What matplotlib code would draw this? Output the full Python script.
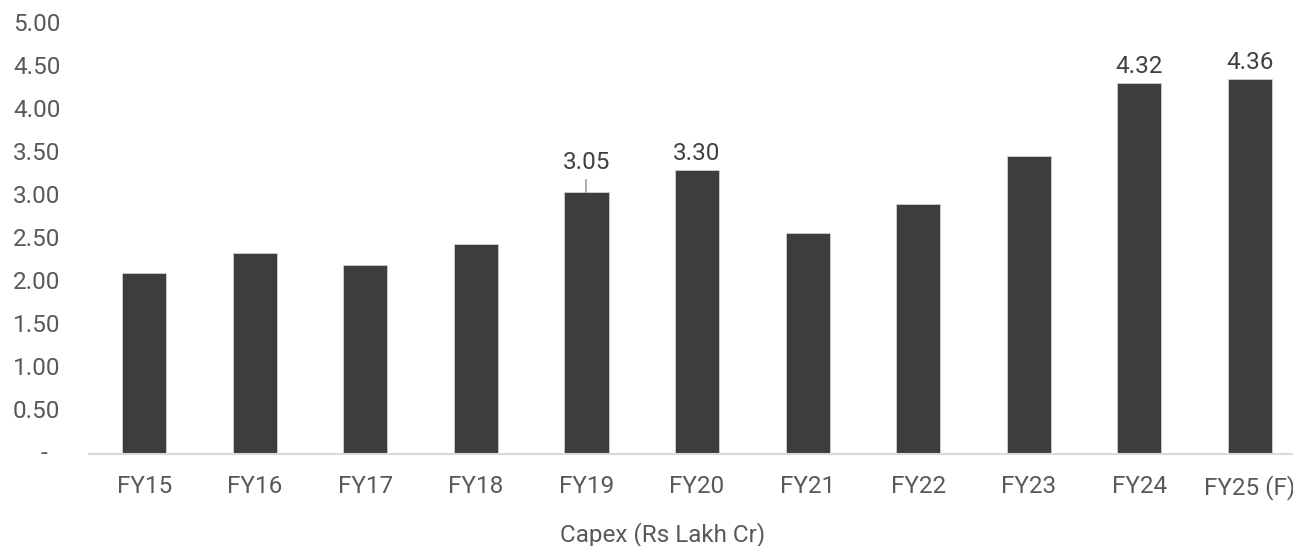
import matplotlib.pyplot as plt

plt.rcParams.update({'font.family': ['Roboto', 'DejaVu Sans']})

years = ['FY15', 'FY16', 'FY17', 'FY18', 'FY19', 'FY20', 'FY21', 'FY22', 'FY23', 'FY24', 'FY25 (F)']
capex = [2.10, 2.34, 2.20, 2.44, 3.05, 3.30, 2.57, 2.91, 3.47, 4.32, 4.36]
labelled = ['FY19', 'FY20', 'FY24', 'FY25 (F)']
y_ticks = [0, 0.5, 1.0, 1.5, 2.0, 2.5, 3.0, 3.5, 4.0, 4.5, 5.0]

text_color = '#595959'
bar_color = '#3d3d3d'
fs = 17.5

fig = plt.figure(figsize=(12.93, 5.46), dpi=100)
ax = fig.add_axes([0.0688, 0.1685, 0.9312, 0.7875])

x = list(range(len(years)))
ax.bar(x, capex, width=0.4, color=bar_color, edgecolor='#d0d0d0', linewidth=0.6, zorder=2)

for i, (yr, v) in enumerate(zip(years, capex)):
    if yr not in labelled:
        continue
    if yr == 'FY19':
        # label pushed up a little, with a short leader back to the bar
        ax.text(i, v + 0.34, f'{v:.2f}', ha='center', va='center', fontsize=fs, color='#404040')
        ax.plot([i, i], [v, v + 0.14], color='#a6a6a6', lw=1.3, zorder=3)
    else:
        ax.text(i, v + 0.19, f'{v:.2f}', ha='center', va='center', fontsize=fs, color='#404040')

ax.set_xlim(-0.5, 10.39)
ax.set_ylim(0, 5.0)
ax.set_xticks(x)
ax.set_xticklabels(years, fontsize=fs, color=text_color)
ax.tick_params(axis='x', length=0, pad=15)

# y labels in accounting style: zero shown as a dash set in from the left
ax.set_yticks([])
ytrans = ax.get_yaxis_transform()
for t in y_ticks:
    if t == 0:
        ax.text(-0.0399, t, '-', ha='left', va='center', fontsize=fs, color=text_color,
                transform=ytrans, clip_on=False)
    else:
        ax.text(-0.0631, t, f'{t:.2f}', ha='left', va='center', fontsize=fs, color=text_color,
                transform=ytrans, clip_on=False)

for side in ['top', 'right', 'left']:
    ax.spines[side].set_visible(False)
ax.spines['bottom'].set_color('#d9d9d9')
ax.spines['bottom'].set_linewidth(1.5)

fig.text(663 / 1293, 1 - 535 / 546, 'Capex (Rs Lakh Cr)', ha='center', va='center',
         fontsize=fs, color=text_color)

plt.savefig('out.png', dpi=100)
